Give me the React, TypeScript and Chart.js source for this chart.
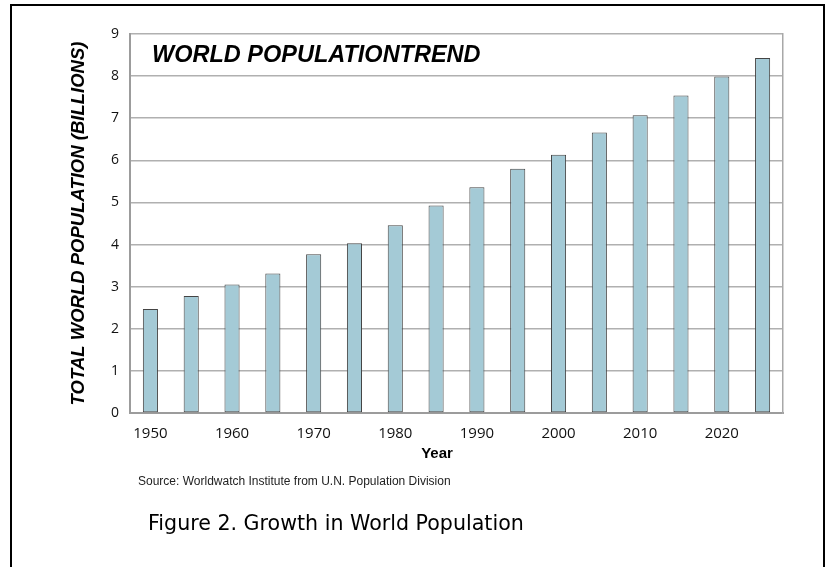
import React, { useEffect, useRef } from 'react';
import { Chart, registerables } from 'chart.js';

Chart.register(...registerables);

// ---- data ----
const years = ['1950', '1955', '1960', '1965', '1970', '1975', '1980', '1985', '1990', '1995', '2000', '2005', '2010', '2015', '2020', '2025'];
const population = [2.47, 2.78, 3.05, 3.31, 3.77, 4.03, 4.46, 4.93, 5.36, 5.80, 6.13, 6.66, 7.07, 7.54, 7.99, 8.43];
const yMin = 0;
const yMax = 9;
const yStep = 1;

const chartTitle = 'WORLD POPULATIONTREND';
const yAxisTitle = 'TOTAL WORLD POPULATION (BILLIONS)';
const xAxisTitle = 'Year';
const sourceNote = 'Source: Worldwatch Institute from U.N. Population Division';
const figureCaption = 'Figure 2. Growth in World Population';

const W = 827;
const H = 567;

export default function App() {
  const canvasRef = useRef<HTMLCanvasElement | null>(null);

  useEffect(() => {
    const canvas = canvasRef.current;
    if (!canvas) return;
    const chart = new Chart(canvas, {
      type: 'bar',
      data: {
        labels: years,
        datasets: [
          {
            data: population,
            backgroundColor: '#a4cad6',
            borderColor: '#444',
            borderWidth: 1,
            borderSkipped: false,
            barPercentage: 0.37,
            categoryPercentage: 1,
          },
        ],
      },
      options: {
        animation: false,
        responsive: false,
        devicePixelRatio: 1,
        layout: { padding: { left: 60, top: 34, right: 44, bottom: 124 } },
        plugins: {
          legend: { display: false },
          tooltip: { enabled: false },
          title: { display: false },
        },
        scales: {
          x: {
            type: 'category',
            offset: true,
            grid: { display: false, drawTicks: false },
            border: { display: true, color: '#9c9c9c', width: 2 },
            ticks: {
              autoSkip: false,
              maxRotation: 0,
              minRotation: 0,
              padding: 12,
              color: '#111',
              font: { family: '"Open Sans", Arial, sans-serif', size: 15 },
              callback: (_v: any, i: number) => (i % 2 === 0 ? years[i] : ''),
            },
            afterFit: (s: any) => {
              s.height = 30;
            },
          },
          y: {
            min: yMin,
            max: yMax,
            position: 'left',
            grid: { color: '#b0b0b0', lineWidth: 1.5, drawTicks: false },
            border: { display: true, color: '#9c9c9c', width: 2 },
            ticks: {
              stepSize: yStep,
              padding: 11,
              color: '#111',
              font: { family: '"Open Sans", Arial, sans-serif', size: 14 },
            },
            title: {
              display: true,
              text: yAxisTitle,
              color: '#000',
              padding: { top: 8, bottom: 0 },
              font: { family: '"Liberation Sans", Arial, sans-serif', size: 18.5, weight: 'bold', style: 'italic' },
            },
            afterFit: (s: any) => {
              s.width = 70;
            },
          },
          y2: {
            position: 'right',
            min: 0,
            max: 1,
            grid: { display: false, drawTicks: false },
            border: { display: true, color: '#a8a8a8', width: 1.5 },
            ticks: { display: false },
            afterFit: (s: any) => {
              s.width = 0;
            },
          },
        },
      },
    });
    return () => chart.destroy();
  }, []);

  return (
    <div style={{ position: 'fixed', left: 0, top: 0, width: W, height: H, overflow: 'hidden', background: '#fff' }}>
      <div
        style={{
          position: 'absolute',
          left: 10,
          top: 4,
          width: 815,
          height: 620,
          boxSizing: 'border-box',
          border: '2px solid #000',
        }}
      />
      <canvas ref={canvasRef} width={W} height={H} style={{ position: 'absolute', left: 0, top: 0, width: W, height: H }} />
      <div
        style={{
          position: 'absolute',
          left: 152,
          top: 43,
          fontFamily: '"Liberation Sans", Arial, sans-serif',
          fontWeight: 'bold',
          fontStyle: 'italic',
          fontSize: 23.5,
          lineHeight: '23px',
          color: '#000',
          whiteSpace: 'nowrap',
        }}
      >
        {chartTitle}
      </div>
      <div
        style={{
          position: 'absolute',
          left: 437,
          top: 452,
          transform: 'translate(-50%, -50%)',
          fontFamily: '"Liberation Sans", Arial, sans-serif',
          fontWeight: 'bold',
          fontSize: 15,
          lineHeight: '15px',
          color: '#000',
          whiteSpace: 'nowrap',
        }}
      >
        {xAxisTitle}
      </div>
      <div
        style={{
          position: 'absolute',
          left: 138,
          top: 481,
          transform: 'translateY(-50%)',
          fontFamily: '"Liberation Sans", Arial, sans-serif',
          fontSize: 12,
          lineHeight: '12px',
          color: '#222',
          whiteSpace: 'nowrap',
        }}
      >
        {sourceNote}
      </div>
      <div
        style={{
          position: 'absolute',
          left: 148,
          top: 523,
          transform: 'translateY(-50%)',
          fontFamily: '"DejaVu Sans", sans-serif',
          fontSize: 20.6,
          lineHeight: '21px',
          color: '#000',
          whiteSpace: 'nowrap',
        }}
      >
        {figureCaption}
      </div>
    </div>
  );
}
